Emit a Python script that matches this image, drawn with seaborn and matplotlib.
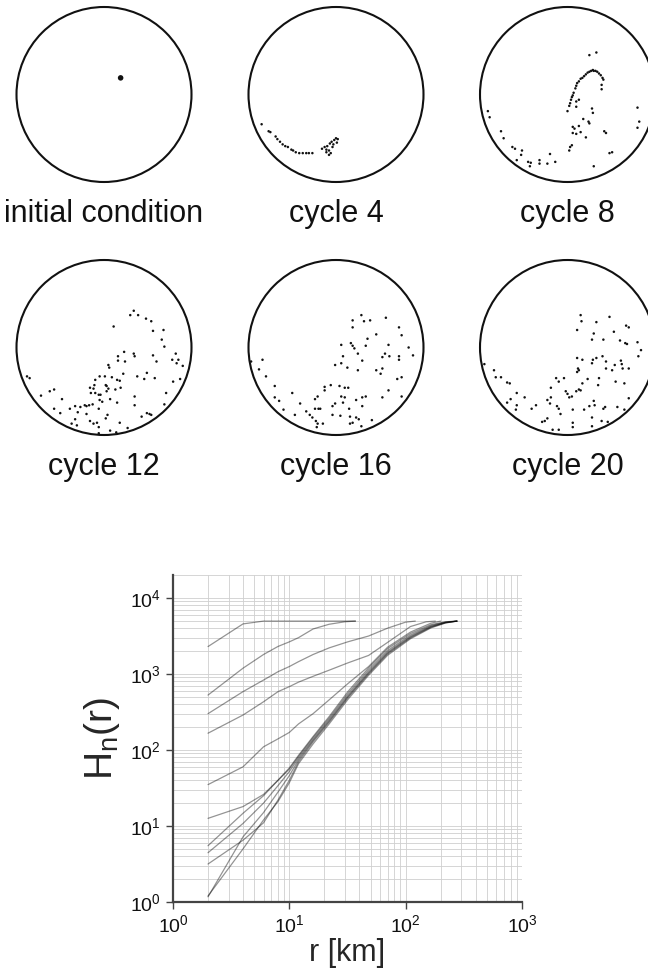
import numpy as np
import pandas as pd
import matplotlib
matplotlib.use("Agg")
import matplotlib.pyplot as plt
import seaborn as sns
from matplotlib.patches import Circle
from matplotlib.ticker import NullFormatter, LogLocator

# ---------------- data: point positions (percent of region radius) ----------------
titles = ["initial condition", "cycle 4", "cycle 8", "cycle 12", "cycle 16", "cycle 20"]

init_x = [19]
init_y = [19]

c4_x = [-85, -77, -75, -69, -67, -64, -61, -58, -55, -51, -49, -46, -42, -38, -34, -31, -27, -16, -13, -11,
        -10, -8, -7, -6, -5, -4, -3, -2, 0, 1, 2, -8, -11]
c4_y = [-34, -42, -43, -48, -51, -54, -57, -59, -60, -63, -64, -66, -67, -67, -67, -67, -67, -62, -60, -63,
        -59, -64, -56, -67, -54, -60, -57, -52, -50, -55, -51, -69, -66]

c8_x = [0, 2, 3, 4, 5, 6, 7, 9, 10, 11, 13, 15, 17, 19, 21, 23, 25, 27, 29, 30, 32, 34, 36, 38, 40, 41, 39, 39,
        25, 33, 10, 13, 10, 28, 29, 18, 24, 25, 6, 8, 13, 15, 6, 10, 21, 3, 2, 5, 42, 44, 48, 51, 30, 80, 82, 80,
        -91, -89, -76, -73, -63, -60, -52, -53, -58, -45, -42, -43, -32, -32, -23, -20, -14]
c8_y = [-19, -13, -10, -6, -3, -1, 2, 7, 10, 13, 15, 18, 19, 21, 23, 25, 26, 27, 28, 27, 27, 26, 24, 22, 19, 17,
        11, 6, 45, 48, -8, -6, -14, -16, -21, -28, -31, -33, -37, -39, -36, -43, -44, -45, -49, -60, -64, -58,
        -42, -44, -67, -66, -82, -15, -31, -38, -19, -26, -42, -50, -60, -62, -64, -69, -75, -77, -78, -82,
        -75, -79, -79, -68, -77]

c12_x = [30, 34, 39, 48, 54, 56, 68, 66, 69, 11, 23, 16, 16, 24, 34, 35, 56, 60, 82, 78, 85, 83, 90, 5, 6, 9, 1,
         -5, -10, -11, -16, -12, -15, -10, -6, -4, -5, 2, 5, 3, 15, 18, 19, 13, 22, 38, 46, 49, 58, 79, 87, 71,
         35, 35, 69, 15, 7, 3, -2, -6, -20, -22, -17, -13, -27, -33, -39, -48, -57, -50, -30, -20, -33, -37,
         -31, -8, -6, 2, 4, 18, 27, 7, 14, -6, 43, 49, 52, 54, -88, -85, -72, -62, -57, -16, -12]
c12_y = [37, 42, 37, 33, 30, 19, 20, 9, 1, 24, -5, -10, -15, -16, -7, -10, -9, -16, -7, -14, -14, -18, -21,
         -20, -23, -34, -33, -33, -37, -43, -46, -47, -52, -52, -54, -54, -60, -43, -47, -44, -37, -38, -46,
         -48, -30, -33, -36, -29, -35, -39, -36, -52, -56, -66, -65, -63, -59, -50, -62, -70, -67, -66, -66,
         -65, -68, -67, -70, -59, -70, -75, -74, -76, -82, -87, -89, -86, -91, -81, -77, -86, -92, -95, -97,
         -98, -79, -75, -76, -77, -33, -35, -55, -50, -48, -84, -87]

c16_x = [29, 19, 19, 32, 39, 57, 72, 75, 46, 36, 17, 19, 21, 6, 34, 60, 83, 25, 8, 56, 53, 61, 72, 72, 88, 30,
         6, -1, 13, 25, 46, 53, 51, 70, 75, -84, -97, -88, -80, -70, -70, -65, -50, -60, -47, -41, -34, -30,
         -27, -24, -21, -24, -20, -18, -23, -21, -15, -13, -13, -6, 4, 10, 14, 10, 6, 8, -4, -4, 5, -1, 15, 16,
         19, 23, 26, 30, 34, 23, 30, 41, 29, 16, 53, 60, 75, -22]
c16_y = [37, 31, 23, 30, 31, 34, 23, 14, 15, 10, 5, 2, -1, 3, 2, 3, 0, -7, -10, -7, -11, -10, -10, -14, -9,
         -15, -18, -20, -23, -26, -26, -24, -30, -36, -34, -14, -16, -25, -33, -44, -57, -61, -52, -71, -77,
         -64, -73, -77, -80, -59, -56, -70, -70, -70, -84, -87, -87, -45, -49, -43, -44, -46, -46, -57, -56,
         -63, -67, -77, -78, -64, -70, -79, -86, -80, -82, -57, -56, -60, -67, -83, -90, -87, -57, -49, -56, -91]

c20_x = [15, 16, 33, 48, 11, 30, 28, 41, 53, 67, 70, 60, 66, 68, 80, 84, 81, 11, 17, 29, 33, 28, 40, 44, 44,
         51, 54, 61, 62, 63, 70, 55, 65, 12, 11, 13, 23, 17, 36, 35, 13, 10, 15, -2, 0, 2, 5, -13, -10, -4,
         -19, -19, -23, -20, -12, -10, -8, -41, -36, -49, -58, -65, -69, -58, -59, -69, -66, -84, -82, -76,
         -95, 6, 19, 25, 30, 31, 41, 43, 57, 65, 70, 28, 39, 46, 6, 6, 28, -29, -26, -23, -17, -10]
c20_y = [37, 30, 29, 35, 20, 16, 9, 9, 18, 25, 23, 8, 5, 4, 6, -3, -10, -12, -14, -14, -12, -18, -10, -16,
         -24, -26, -20, -15, -19, -24, -24, -39, -41, -24, -28, -26, -36, -41, -35, -43, -48, -50, -49, -50,
         -53, -57, -56, -35, -39, -35, -46, -57, -60, -64, -67, -70, -76, -70, -66, -57, -52, -59, -63, -66,
         -71, -40, -41, -26, -34, -34, -19, -71, -71, -67, -61, -66, -70, -68, -68, -71, -58, -80, -84, -85,
         -86, -91, -90, -85, -84, -81, -94, -94]

# ---------------- data: pair-count curves H_n(r) ----------------
r_a = [2, 4, 6, 8, 37]
h_a = [2290, 4550, 4950, 4950, 4950]
r_b = [2, 4, 6, 8, 10, 12, 16, 22, 30, 37]
h_b = [527, 1190, 1800, 2300, 2640, 3000, 3900, 4500, 4850, 4950]
r_c = [2, 4, 6, 8, 10, 12, 16, 22, 32, 48, 70, 100, 121]
h_c = [300, 585, 830, 1070, 1250, 1450, 1800, 2200, 2650, 3150, 4000, 4800, 4950]
r_d = [2, 4, 6, 8, 10, 12, 16, 22, 32, 48, 70, 110, 150, 180]
h_d = [166, 288, 430, 585, 680, 780, 930, 1120, 1400, 1750, 2600, 4200, 4850, 4950]
r_e = [2, 4, 6, 8, 10, 12, 16, 22, 32, 48, 70, 110, 165, 200]
h_e = [35, 60, 110, 140, 170, 220, 300, 456, 750, 1250, 2250, 3550, 4650, 4950]
r_late = [2, 4, 6, 8, 10, 12, 16, 22, 32, 48, 70, 110, 165, 220, 276]
h_f = [12.6, 18, 26, 40, 58, 85, 150, 275, 590, 1200, 2150, 3400, 4450, 4850, 4950]
h_g = [5.5, 14.7, 25, 40, 56, 82, 145, 262, 555, 1130, 2030, 3250, 4330, 4800, 4950]
h_h = [4.45, 10.8, 20, 34, 52, 78, 138, 250, 525, 1070, 1940, 3130, 4230, 4760, 4950]
h_i = [3.16, 6.5, 11, 22, 40, 70, 128, 232, 490, 1000, 1830, 2980, 4100, 4700, 4950]
h_j = [1.17, 7.2, 15, 28, 46, 74, 133, 240, 505, 1030, 1880, 3050, 4170, 4730, 4950]
h_k = [1.2, 5.0, 12, 21, 37, 66, 120, 220, 465, 960, 1760, 2900, 4030, 4670, 4950]

# ---------------- style ----------------
sns.set_theme(style="white")
plt.rcParams["font.family"] = ["Liberation Sans", "DejaVu Sans"]
plt.rcParams["mathtext.fontset"] = "custom"
plt.rcParams["mathtext.rm"] = "Liberation Sans"
plt.rcParams["mathtext.it"] = "Liberation Sans:italic"
plt.rcParams["mathtext.bf"] = "Liberation Sans:bold"
plt.rcParams["text.color"] = "#111111"

W, H = 648, 975
fig = plt.figure(figsize=(W / 100, H / 100), dpi=100)

panels = [(init_x, init_y), (c4_x, c4_y), (c8_x, c8_y), (c12_x, c12_y), (c16_x, c16_y), (c20_x, c20_y)]
centers_x = [104, 336, 567.5]
centers_y = [94.5, 347.5]
R_px = 87.5
half = 90
lim = 100 * half / R_px

for i, (px, py) in enumerate(panels):
    cx = centers_x[i % 3]
    cy = centers_y[i // 3]
    ax = fig.add_axes([(cx - half) / W, 1 - (cy + half) / H, 2 * half / W, 2 * half / H])
    ax.add_patch(Circle((0, 0), 100, fill=False, lw=1.5, ec="#111111"))
    size = 16 if i == 0 else 3.2
    sns.scatterplot(x=px, y=py, ax=ax, s=size, color="#111111", edgecolor="none", linewidth=0, legend=False)
    ax.set_xlim(-lim, lim)
    ax.set_ylim(-lim, lim)
    ax.set_aspect("equal")
    ax.axis("off")
    fig.text(cx / W, 1 - (222 + 253 * (i // 3)) / H, titles[i], ha="center", va="baseline", fontsize=22)

# ---------------- log-log panel ----------------
ax = fig.add_axes([173 / W, 1 - 902 / H, (522 - 173) / W, (902 - 575) / H])
ax.set_xscale("log")
ax.set_yscale("log")
curves = [(r_a, h_a), (r_b, h_b), (r_c, h_c), (r_d, h_d), (r_e, h_e),
          (r_late, h_f), (r_late, h_g), (r_late, h_h), (r_late, h_i), (r_late, h_j), (r_late, h_k)]
for rr, hh in curves:
    sns.lineplot(x=rr, y=hh, ax=ax, color="black", alpha=0.42, lw=0.9, estimator=None, sort=False)

ax.set_xlim(1, 1000)
ax.set_ylim(1, 2e4)
ax.xaxis.set_minor_locator(LogLocator(base=10, subs=np.arange(2, 10)))
ax.yaxis.set_minor_locator(LogLocator(base=10, subs=np.arange(2, 10)))
ax.xaxis.set_minor_formatter(NullFormatter())
ax.yaxis.set_minor_formatter(NullFormatter())
ax.grid(True, which="both", color="#cfcfcf", lw=0.6)
ax.set_axisbelow(True)
for s in ["top", "right"]:
    ax.spines[s].set_visible(False)
for s in ["left", "bottom"]:
    ax.spines[s].set_color("#444444")
    ax.spines[s].set_linewidth(1.6)
ax.tick_params(which="major", direction="out", length=5, width=1, color="#444444",
               bottom=True, left=True, labelsize=14, labelcolor="#111111")
ax.tick_params(which="minor", length=0)
ax.set_xlabel("r [km]", fontsize=22, labelpad=2)
ax.set_ylabel("H$_\\mathrm{n}$(r)", fontsize=28, labelpad=6)

fig.savefig("out.png", dpi=100)
